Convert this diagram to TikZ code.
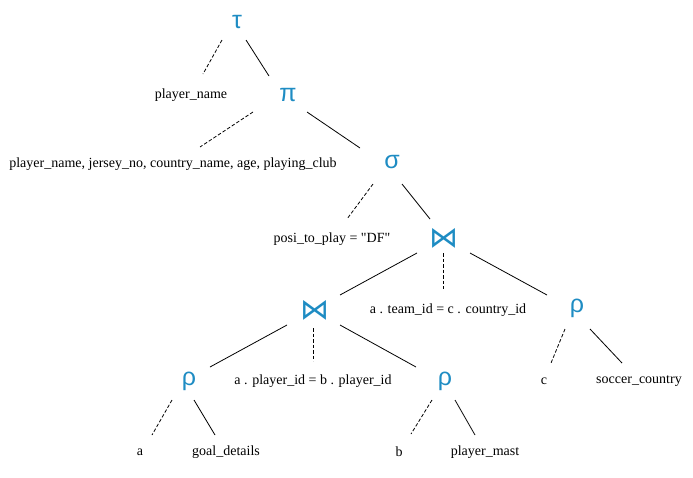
\documentclass[tikz,border=0pt]{standalone}
\usepackage{fontspec}
\setmainfont{Liberation Serif}
\newfontfamily\plainserif{Liberation Serif}
\newfontfamily\greekfont{Liberation Sans}
\newfontfamily\joinfont{DejaVu Sans}
\usetikzlibrary{calc}
\definecolor{opblue}{RGB}{30,140,195}
\begin{document}
\begin{tikzpicture}[x=1pt,y=-1pt,
  op/.style={font=\greekfont\fontsize{25}{25}\selectfont, text=opblue, inner sep=0pt},
  jn/.style={font=\joinfont\fontsize{29}{29}\selectfont, text=opblue, inner sep=0pt},
  lbl/.style={font=\plainserif\fontsize{14}{16}\selectfont, inner sep=0pt},
  edge/.style={line width=0.8pt},
  cond/.style={line width=0.8pt, dash pattern=on 3.5pt off 2pt}]
\useasboundingbox (0,0) rectangle (693,477);
\node[op] (tau) at (237,22) {τ};
\node[lbl] (pn) at (191,95) {player\_name};
\node[op] (pi) at (288,95) {π};
\node[lbl] (cols) at (173,164) {player\_name, jersey\_no, country\_name, age, playing\_club};
\node[op] (sigma) at (392,162) {σ};
\node[lbl] (cond1) at (332,239) {posi\_to\_play = "DF"};
\node[jn] (j1) at (444,238) {⋈};
\node[jn] (j2) at (315,310) {⋈};
\node[lbl] (cond2) at (448,310) {a . team\_id = c . country\_id};
\node[op] (r3) at (577,308) {ρ};
\node[lbl] (c) at (544,381) {c};
\node[lbl] (sc) at (639,381) {soccer\_country};
\node[op] (r1) at (189,381) {ρ};
\node[lbl] (cond3) at (313,381) {a . player\_id = b . player\_id};
\node[op] (r2) at (445,381) {ρ};
\node[lbl] (a) at (140,452) {a};
\node[lbl] (gd) at (226,452) {goal\_details};
\node[lbl] (b) at (399,452) {b};
\node[lbl] (pm) at (485,452) {player\_mast};

\draw[cond] ($(tau)+(-15,18)$) -- ($(pn)+(12,-21)$);
\draw[edge] ($(tau)+(9,18)$) -- ($(pi)+(-19,-19)$);
\draw[cond] ($(pi)+(-35,17)$) -- ($(cols)+(27,-17)$);
\draw[edge] ($(pi)+(19,17)$) -- ($(sigma)+(-32,-14)$);
\draw[cond] ($(sigma)+(-19,22)$) -- ($(cond1)+(15,-20)$);
\draw[edge] ($(sigma)+(10,22)$) -- ($(j1)+(-14,-19)$);
\draw[edge] ($(j1)+(-27,15)$) -- ($(j2)+(25,-15)$);
\draw[cond] ($(j1)+(-1,15)$) -- ($(cond2)+(-5,-21)$);
\draw[edge] ($(j1)+(26,15)$) -- ($(r3)+(-30,-13)$);
\draw[edge] ($(j2)+(-28,15)$) -- ($(r1)+(21,-14)$);
\draw[cond] ($(j2)+(-2,18)$) -- ($(cond3)+(0,-20)$);
\draw[edge] ($(j2)+(25,15)$) -- ($(r2)+(-29,-14)$);
\draw[cond] ($(r1)+(-17,19)$) -- ($(a)+(12,-17)$);
\draw[edge] ($(r1)+(5,19)$) -- ($(gd)+(-11,-17)$);
\draw[cond] ($(r2)+(-13,19)$) -- ($(b)+(12,-18)$);
\draw[edge] ($(r2)+(10,19)$) -- ($(pm)+(-10,-17)$);
\draw[cond] ($(r3)+(-12,21)$) -- ($(c)+(7,-18)$);
\draw[edge] ($(r3)+(13,21)$) -- ($(sc)+(-17,-18)$);
\end{tikzpicture}
\end{document}
